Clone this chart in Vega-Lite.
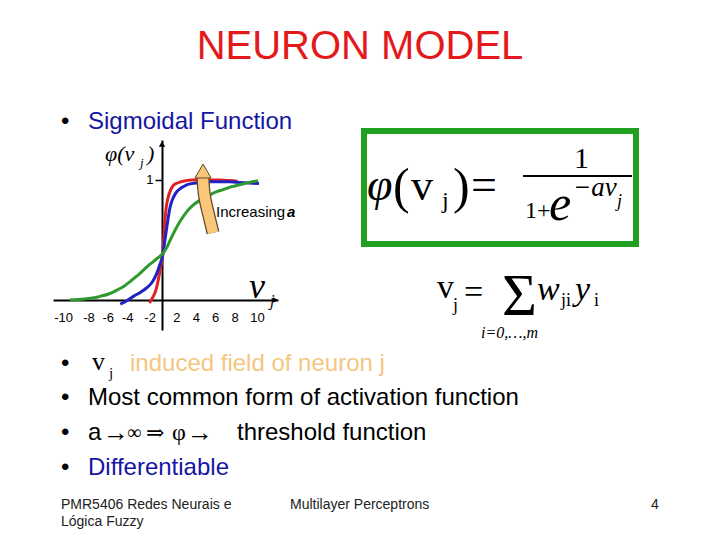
{
  "$schema": "https://vega.github.io/schema/vega-lite/v6.json",
  "width": 720,
  "height": 540,
  "padding": 0,
  "autosize": {"type": "none"},
  "background": "white",
  "config": {"view": {"stroke": null}},
  "datasets": {
    "title": [{"sx": 360, "sy": 59, "t": "NEURON MODEL"}],
    "bullets": [
      {"sx": 61, "sy": 129, "t": "•"},
      {"sx": 61, "sy": 371, "t": "•"},
      {"sx": 61, "sy": 405, "t": "•"},
      {"sx": 61, "sy": 440, "t": "•"},
      {"sx": 61, "sy": 475, "t": "•"}
    ],
    "blueText": [
      {"sx": 88, "sy": 129, "t": "Sigmoidal Function"},
      {"sx": 88, "sy": 475, "t": "Differentiable"}
    ],
    "blackText": [
      {"sx": 88, "sy": 405, "t": "Most common form of activation function"},
      {"sx": 88, "sy": 440, "t": "a"},
      {"sx": 237, "sy": 440, "t": "threshold function"}
    ],
    "orangeText": [{"sx": 130, "sy": 371, "t": "induced field of neuron j"}],
    "footer": [
      {"sx": 61, "sy": 509, "t": "PMR5406 Redes Neurais e"},
      {"sx": 61, "sy": 526, "t": "Lógica Fuzzy"},
      {"sx": 290, "sy": 509, "t": "Multilayer Perceptrons"},
      {"sx": 651, "sy": 509, "t": "4"}
    ],
    "incr": [{"sx": 216, "sy": 217, "t": "Increasing"}],
    "incrA": [{"sx": 287, "sy": 217, "t": "a"}],
    "yTitle": [
      {"sx": 105, "sy": 161, "t": "φ(v"},
      {"sx": 147, "sy": 161, "t": ")"}
    ],
    "yTitleSub": [{"sx": 140, "sy": 167, "t": "j"}],
    "xTitle": [{"sx": 249, "sy": 298, "t": "v"}],
    "xTitleSub": [{"sx": 270, "sy": 306, "t": "j"}],
    "box": [{"sx": 364, "sy": 131, "sx2": 636, "sy2": 244}],
    "bar": [{"sx": 523, "sx2": 632, "sy": 176}],
    "it46": [{"sx": 367, "sy": 200, "t": "φ"}],
    "up50p": [{"sx": 393, "sy": 203, "t": "("}, {"sx": 453, "sy": 203, "t": ")"}],
    "up44": [{"sx": 411, "sy": 200, "t": "v"}],
    "up24": [{"sx": 442, "sy": 208, "t": "j"}],
    "up46": [{"sx": 471, "sy": 200, "t": "="}],
    "up30": [{"sx": 574, "sy": 168, "t": "1"}],
    "up24b": [{"sx": 525, "sy": 218, "t": "1+"}],
    "it50": [{"sx": 549, "sy": 220, "t": "e"}],
    "it27": [{"sx": 573, "sy": 196, "t": "−av"}],
    "it18": [{"sx": 617, "sy": 207, "t": "j"}],
    "up34": [{"sx": 437, "sy": 298, "t": "v"}, {"sx": 464, "sy": 303, "t": "="}],
    "up18": [
      {"sx": 453, "sy": 311, "t": "j"},
      {"sx": 561, "sy": 306, "t": "ji"},
      {"sx": 594, "sy": 306, "t": "i"}
    ],
    "up60": [{"sx": 502, "sy": 315, "t": "Σ"}],
    "it34": [{"sx": 537, "sy": 300, "t": "w"}, {"sx": 575, "sy": 300, "t": "y"}],
    "it16": [{"sx": 481, "sy": 338, "t": "i=0,…,m"}],
    "up26": [{"sx": 92, "sy": 370, "t": "v"}],
    "up15": [{"sx": 109, "sy": 378, "t": "j"}],
    "arrows26": [
      {"sx": 103, "sy": 441, "t": "→"},
      {"sx": 187, "sy": 441, "t": "→"}
    ],
    "inf20": [{"sx": 127, "sy": 439, "t": "∞"}],
    "imp22": [{"sx": 146, "sy": 440, "t": "⇒"}],
    "phi24": [{"sx": 172, "sy": 440, "t": "φ"}],
    "curves": [
      {"curve": "steep", "v": -1.3, "phi": -0.025},
      {"curve": "steep", "v": -1.1, "phi": 0.0},
      {"curve": "steep", "v": -0.9, "phi": 0.03},
      {"curve": "steep", "v": -0.6, "phi": 0.09},
      {"curve": "steep", "v": -0.38, "phi": 0.17},
      {"curve": "steep", "v": -0.15, "phi": 0.27},
      {"curve": "steep", "v": 0.07, "phi": 0.375},
      {"curve": "steep", "v": 0.3, "phi": 0.66},
      {"curve": "steep", "v": 0.45, "phi": 0.78},
      {"curve": "steep", "v": 0.65, "phi": 0.86},
      {"curve": "steep", "v": 0.9, "phi": 0.92},
      {"curve": "steep", "v": 1.16, "phi": 0.955},
      {"curve": "steep", "v": 1.6, "phi": 0.975},
      {"curve": "steep", "v": 2.2, "phi": 0.99},
      {"curve": "steep", "v": 3, "phi": 1.0},
      {"curve": "steep", "v": 4, "phi": 1.002},
      {"curve": "steep", "v": 5, "phi": 1.0},
      {"curve": "steep", "v": 6, "phi": 1.0},
      {"curve": "steep", "v": 7, "phi": 0.995},
      {"curve": "steep", "v": 7.8, "phi": 0.99},
      {"curve": "medium", "v": -4.3, "phi": -0.035},
      {"curve": "medium", "v": -3.7, "phi": -0.01},
      {"curve": "medium", "v": -2.95, "phi": 0.03},
      {"curve": "medium", "v": -2.2, "phi": 0.065},
      {"curve": "medium", "v": -1.6, "phi": 0.1},
      {"curve": "medium", "v": -1.0, "phi": 0.15},
      {"curve": "medium", "v": -0.55, "phi": 0.22},
      {"curve": "medium", "v": -0.2, "phi": 0.3},
      {"curve": "medium", "v": 0.07, "phi": 0.375},
      {"curve": "medium", "v": 0.3, "phi": 0.5},
      {"curve": "medium", "v": 0.5, "phi": 0.61},
      {"curve": "medium", "v": 0.85, "phi": 0.78},
      {"curve": "medium", "v": 1.2, "phi": 0.86},
      {"curve": "medium", "v": 1.5, "phi": 0.9},
      {"curve": "medium", "v": 2.0, "phi": 0.935},
      {"curve": "medium", "v": 2.55, "phi": 0.96},
      {"curve": "medium", "v": 3.2, "phi": 0.972},
      {"curve": "medium", "v": 3.9, "phi": 0.98},
      {"curve": "medium", "v": 5, "phi": 0.985},
      {"curve": "medium", "v": 6, "phi": 0.985},
      {"curve": "medium", "v": 7, "phi": 0.985},
      {"curve": "medium", "v": 8, "phi": 0.98},
      {"curve": "medium", "v": 9, "phi": 0.975},
      {"curve": "medium", "v": 10, "phi": 0.97},
      {"curve": "gentle", "v": -9.5, "phi": 0.0},
      {"curve": "gentle", "v": -8, "phi": 0.008},
      {"curve": "gentle", "v": -7, "phi": 0.018},
      {"curve": "gentle", "v": -6.4, "phi": 0.03},
      {"curve": "gentle", "v": -5.5, "phi": 0.05},
      {"curve": "gentle", "v": -4.7, "phi": 0.08},
      {"curve": "gentle", "v": -4.0, "phi": 0.11},
      {"curve": "gentle", "v": -3.2, "phi": 0.16},
      {"curve": "gentle", "v": -2.3, "phi": 0.22},
      {"curve": "gentle", "v": -1.5, "phi": 0.28},
      {"curve": "gentle", "v": -0.9, "phi": 0.32},
      {"curve": "gentle", "v": -0.3, "phi": 0.36},
      {"curve": "gentle", "v": 0.07, "phi": 0.385},
      {"curve": "gentle", "v": 0.5, "phi": 0.44},
      {"curve": "gentle", "v": 0.85, "phi": 0.5},
      {"curve": "gentle", "v": 1.4, "phi": 0.59},
      {"curve": "gentle", "v": 1.9, "phi": 0.66},
      {"curve": "gentle", "v": 2.5, "phi": 0.73},
      {"curve": "gentle", "v": 3.2, "phi": 0.79},
      {"curve": "gentle", "v": 3.9, "phi": 0.83},
      {"curve": "gentle", "v": 4.6, "phi": 0.86},
      {"curve": "gentle", "v": 5.4, "phi": 0.895},
      {"curve": "gentle", "v": 6.3, "phi": 0.92},
      {"curve": "gentle", "v": 7.2, "phi": 0.945},
      {"curve": "gentle", "v": 8, "phi": 0.96},
      {"curve": "gentle", "v": 9, "phi": 0.98},
      {"curve": "gentle", "v": 9.9, "phi": 0.995}
    ],
    "arrowBody": [
      {"i": 0, "v": 5.26, "phi": 0.56},
      {"i": 1, "v": 4.85, "phi": 0.7},
      {"i": 2, "v": 4.43, "phi": 0.83},
      {"i": 3, "v": 4.25, "phi": 0.95},
      {"i": 4, "v": 4.23, "phi": 1.02}
    ],
    "arrowHead": [{"v": 4.23, "phi": 1.075}],
    "yTip": [{"v": 0, "phi": 1.3}],
    "xTip": [{"v": 11.7, "phi": 0}]
  },
  "layer": [
    {
      "encoding": {
        "x": {"field": "sx", "type": "quantitative", "scale": {"domain": [0, 720], "range": [0, 720]}, "axis": null},
        "y": {"field": "sy", "type": "quantitative", "scale": {"domain": [0, 540], "range": [0, 540]}, "axis": null}
      },
      "layer": [
        {"data": {"name": "box"}, "mark": {"type": "rect", "fill": null, "filled": false, "stroke": "#22A022", "strokeWidth": 6},
         "encoding": {"x2": {"field": "sx2"}, "y2": {"field": "sy2"}}},
        {"data": {"name": "bar"}, "mark": {"type": "rule", "stroke": "black", "strokeWidth": 2},
         "encoding": {"x2": {"field": "sx2"}}},
        {"data": {"name": "title"}, "mark": {"type": "text", "font": "Liberation Sans", "fontSize": 40, "color": "#E3191C", "align": "center", "baseline": "alphabetic"}, "encoding": {"text": {"field": "t"}}},
        {"data": {"name": "bullets"}, "mark": {"type": "text", "font": "Liberation Sans", "fontSize": 24, "color": "black", "align": "left", "baseline": "alphabetic"}, "encoding": {"text": {"field": "t"}}},
        {"data": {"name": "blueText"}, "mark": {"type": "text", "font": "Liberation Sans", "fontSize": 24, "color": "#1515A3", "align": "left", "baseline": "alphabetic"}, "encoding": {"text": {"field": "t"}}},
        {"data": {"name": "blackText"}, "mark": {"type": "text", "font": "Liberation Sans", "fontSize": 24, "color": "black", "align": "left", "baseline": "alphabetic"}, "encoding": {"text": {"field": "t"}}},
        {"data": {"name": "orangeText"}, "mark": {"type": "text", "font": "Liberation Sans", "fontSize": 24, "color": "#F5C680", "align": "left", "baseline": "alphabetic"}, "encoding": {"text": {"field": "t"}}},
        {"data": {"name": "footer"}, "mark": {"type": "text", "font": "Liberation Sans", "fontSize": 14, "color": "#222222", "align": "left", "baseline": "alphabetic"}, "encoding": {"text": {"field": "t"}}},
        {"data": {"name": "incr"}, "mark": {"type": "text", "font": "Liberation Sans", "fontSize": 15, "color": "black", "align": "left", "baseline": "alphabetic"}, "encoding": {"text": {"field": "t"}}},
        {"data": {"name": "incrA"}, "mark": {"type": "text", "font": "Liberation Sans", "fontSize": 15, "fontWeight": "bold", "fontStyle": "italic", "color": "black", "align": "left", "baseline": "alphabetic"}, "encoding": {"text": {"field": "t"}}},
        {"data": {"name": "yTitle"}, "mark": {"type": "text", "font": "Liberation Serif", "fontSize": 22, "fontStyle": "italic", "color": "black", "align": "left", "baseline": "alphabetic"}, "encoding": {"text": {"field": "t"}}},
        {"data": {"name": "yTitleSub"}, "mark": {"type": "text", "font": "Liberation Serif", "fontSize": 13, "fontStyle": "italic", "color": "black", "align": "left", "baseline": "alphabetic"}, "encoding": {"text": {"field": "t"}}},
        {"data": {"name": "xTitle"}, "mark": {"type": "text", "font": "Liberation Serif", "fontSize": 36, "fontStyle": "italic", "color": "black", "align": "left", "baseline": "alphabetic"}, "encoding": {"text": {"field": "t"}}},
        {"data": {"name": "xTitleSub"}, "mark": {"type": "text", "font": "Liberation Serif", "fontSize": 16, "fontStyle": "italic", "color": "black", "align": "left", "baseline": "alphabetic"}, "encoding": {"text": {"field": "t"}}},
        {"data": {"name": "it46"}, "mark": {"type": "text", "font": "Liberation Serif", "fontSize": 46, "fontStyle": "italic", "color": "black", "align": "left", "baseline": "alphabetic"}, "encoding": {"text": {"field": "t"}}},
        {"data": {"name": "up50p"}, "mark": {"type": "text", "font": "Liberation Serif", "fontSize": 50, "color": "black", "align": "left", "baseline": "alphabetic"}, "encoding": {"text": {"field": "t"}}},
        {"data": {"name": "up44"}, "mark": {"type": "text", "font": "Liberation Serif", "fontSize": 44, "color": "black", "align": "left", "baseline": "alphabetic"}, "encoding": {"text": {"field": "t"}}},
        {"data": {"name": "up24"}, "mark": {"type": "text", "font": "Liberation Serif", "fontSize": 24, "color": "black", "align": "left", "baseline": "alphabetic"}, "encoding": {"text": {"field": "t"}}},
        {"data": {"name": "up46"}, "mark": {"type": "text", "font": "Liberation Serif", "fontSize": 46, "color": "black", "align": "left", "baseline": "alphabetic"}, "encoding": {"text": {"field": "t"}}},
        {"data": {"name": "up30"}, "mark": {"type": "text", "font": "Liberation Serif", "fontSize": 30, "color": "black", "align": "left", "baseline": "alphabetic"}, "encoding": {"text": {"field": "t"}}},
        {"data": {"name": "up24b"}, "mark": {"type": "text", "font": "Liberation Serif", "fontSize": 24, "color": "black", "align": "left", "baseline": "alphabetic"}, "encoding": {"text": {"field": "t"}}},
        {"data": {"name": "it50"}, "mark": {"type": "text", "font": "Liberation Serif", "fontSize": 50, "fontStyle": "italic", "color": "black", "align": "left", "baseline": "alphabetic"}, "encoding": {"text": {"field": "t"}}},
        {"data": {"name": "it27"}, "mark": {"type": "text", "font": "Liberation Serif", "fontSize": 27, "fontStyle": "italic", "color": "black", "align": "left", "baseline": "alphabetic"}, "encoding": {"text": {"field": "t"}}},
        {"data": {"name": "it18"}, "mark": {"type": "text", "font": "Liberation Serif", "fontSize": 18, "fontStyle": "italic", "color": "black", "align": "left", "baseline": "alphabetic"}, "encoding": {"text": {"field": "t"}}},
        {"data": {"name": "up34"}, "mark": {"type": "text", "font": "Liberation Serif", "fontSize": 34, "color": "black", "align": "left", "baseline": "alphabetic"}, "encoding": {"text": {"field": "t"}}},
        {"data": {"name": "up18"}, "mark": {"type": "text", "font": "Liberation Serif", "fontSize": 18, "color": "black", "align": "left", "baseline": "alphabetic"}, "encoding": {"text": {"field": "t"}}},
        {"data": {"name": "up60"}, "mark": {"type": "text", "font": "Liberation Serif", "fontSize": 60, "color": "black", "align": "left", "baseline": "alphabetic"}, "encoding": {"text": {"field": "t"}}},
        {"data": {"name": "it34"}, "mark": {"type": "text", "font": "Liberation Serif", "fontSize": 34, "fontStyle": "italic", "color": "black", "align": "left", "baseline": "alphabetic"}, "encoding": {"text": {"field": "t"}}},
        {"data": {"name": "it16"}, "mark": {"type": "text", "font": "Liberation Serif", "fontSize": 16, "fontStyle": "italic", "color": "black", "align": "left", "baseline": "alphabetic"}, "encoding": {"text": {"field": "t"}}},
        {"data": {"name": "up26"}, "mark": {"type": "text", "font": "Liberation Serif", "fontSize": 26, "color": "black", "align": "left", "baseline": "alphabetic"}, "encoding": {"text": {"field": "t"}}},
        {"data": {"name": "up15"}, "mark": {"type": "text", "font": "Liberation Serif", "fontSize": 15, "color": "black", "align": "left", "baseline": "alphabetic"}, "encoding": {"text": {"field": "t"}}},
        {"data": {"name": "arrows26"}, "mark": {"type": "text", "font": "Liberation Serif, DejaVu Serif", "fontSize": 26, "color": "black", "align": "left", "baseline": "alphabetic"}, "encoding": {"text": {"field": "t"}}},
        {"data": {"name": "inf20"}, "mark": {"type": "text", "font": "Liberation Serif, DejaVu Serif", "fontSize": 20, "color": "black", "align": "left", "baseline": "alphabetic"}, "encoding": {"text": {"field": "t"}}},
        {"data": {"name": "imp22"}, "mark": {"type": "text", "font": "DejaVu Serif", "fontSize": 22, "color": "black", "align": "left", "baseline": "alphabetic"}, "encoding": {"text": {"field": "t"}}},
        {"data": {"name": "phi24"}, "mark": {"type": "text", "font": "Liberation Serif", "fontSize": 24, "color": "black", "align": "left", "baseline": "alphabetic"}, "encoding": {"text": {"field": "t"}}}
      ]
    },
    {
      "encoding": {
        "x": {"field": "v", "type": "quantitative",
              "scale": {"domain": [-11.24, 11.96], "range": [53, 278]},
              "axis": {"orient": "bottom", "offset": -240, "values": [-10, -8, -6, -4, -2, 2, 4, 6, 8, 10],
                       "ticks": false, "labelPadding": 11, "labelFont": "Liberation Sans", "labelFontSize": 13,
                       "labelColor": "black", "domainColor": "black", "domainWidth": 2, "grid": false, "title": null,
                       "labelExpr": "datum.value < 0 ? '-' + abs(datum.value) : '' + datum.value",
                       "labelOffset": {"condition": [
                         {"test": "datum.value == -10", "value": -2},
                         {"test": "datum.value == -2", "value": 7},
                         {"test": "datum.value == 10", "value": -2},
                         {"test": "datum.value < 0", "value": 4}
                       ], "value": -5},
                       "labelFlush": false, "labelOverlap": false, "labelBound": false}},
        "y": {"field": "phi", "type": "quantitative",
              "scale": {"domain": [-0.25, 1.3333], "range": [330, 140]},
              "axis": {"orient": "left", "offset": -162, "values": [1], "tickSize": 7, "tickColor": "black", "tickWidth": 1.5,
                       "labelPadding": 2, "labelFont": "Liberation Sans", "labelFontSize": 13, "labelColor": "black",
                       "domainColor": "black", "domainWidth": 2, "grid": false, "title": null,
                       "labelFlush": false, "labelOverlap": false, "labelBound": false}}
      },
      "layer": [
        {"data": {"name": "curves"}, "mark": {"type": "line", "strokeWidth": 3, "interpolate": "monotone"},
         "encoding": {"color": {"field": "curve", "type": "nominal",
                                "scale": {"domain": ["steep", "medium", "gentle"], "range": ["#E02222", "#2222C4", "#2E9A2E"]},
                                "legend": null}}},
        {"data": {"name": "arrowBody"}, "mark": {"type": "line", "stroke": "#5E4A2A", "strokeWidth": 13, "interpolate": "basis"},
         "encoding": {"order": {"field": "i", "type": "quantitative"}}},
        {"data": {"name": "arrowBody"}, "mark": {"type": "line", "stroke": "#F9C67A", "strokeWidth": 10.5, "interpolate": "basis"},
         "encoding": {"order": {"field": "i", "type": "quantitative"}}},
        {"data": {"name": "arrowHead"}, "mark": {"type": "point", "shape": "triangle-up", "size": 260, "filled": true, "fill": "#F9C67A", "stroke": "#5E4A2A", "strokeWidth": 1, "opacity": 1}},
        {"data": {"name": "yTip"}, "mark": {"type": "point", "shape": "triangle-up", "size": 40, "filled": true, "color": "black", "opacity": 1}},
        {"data": {"name": "xTip"}, "mark": {"type": "point", "shape": "triangle-right", "size": 30, "filled": true, "color": "black", "opacity": 1}}
      ]
    }
  ],
  "resolve": {"scale": {"x": "independent", "y": "independent"}}
}
